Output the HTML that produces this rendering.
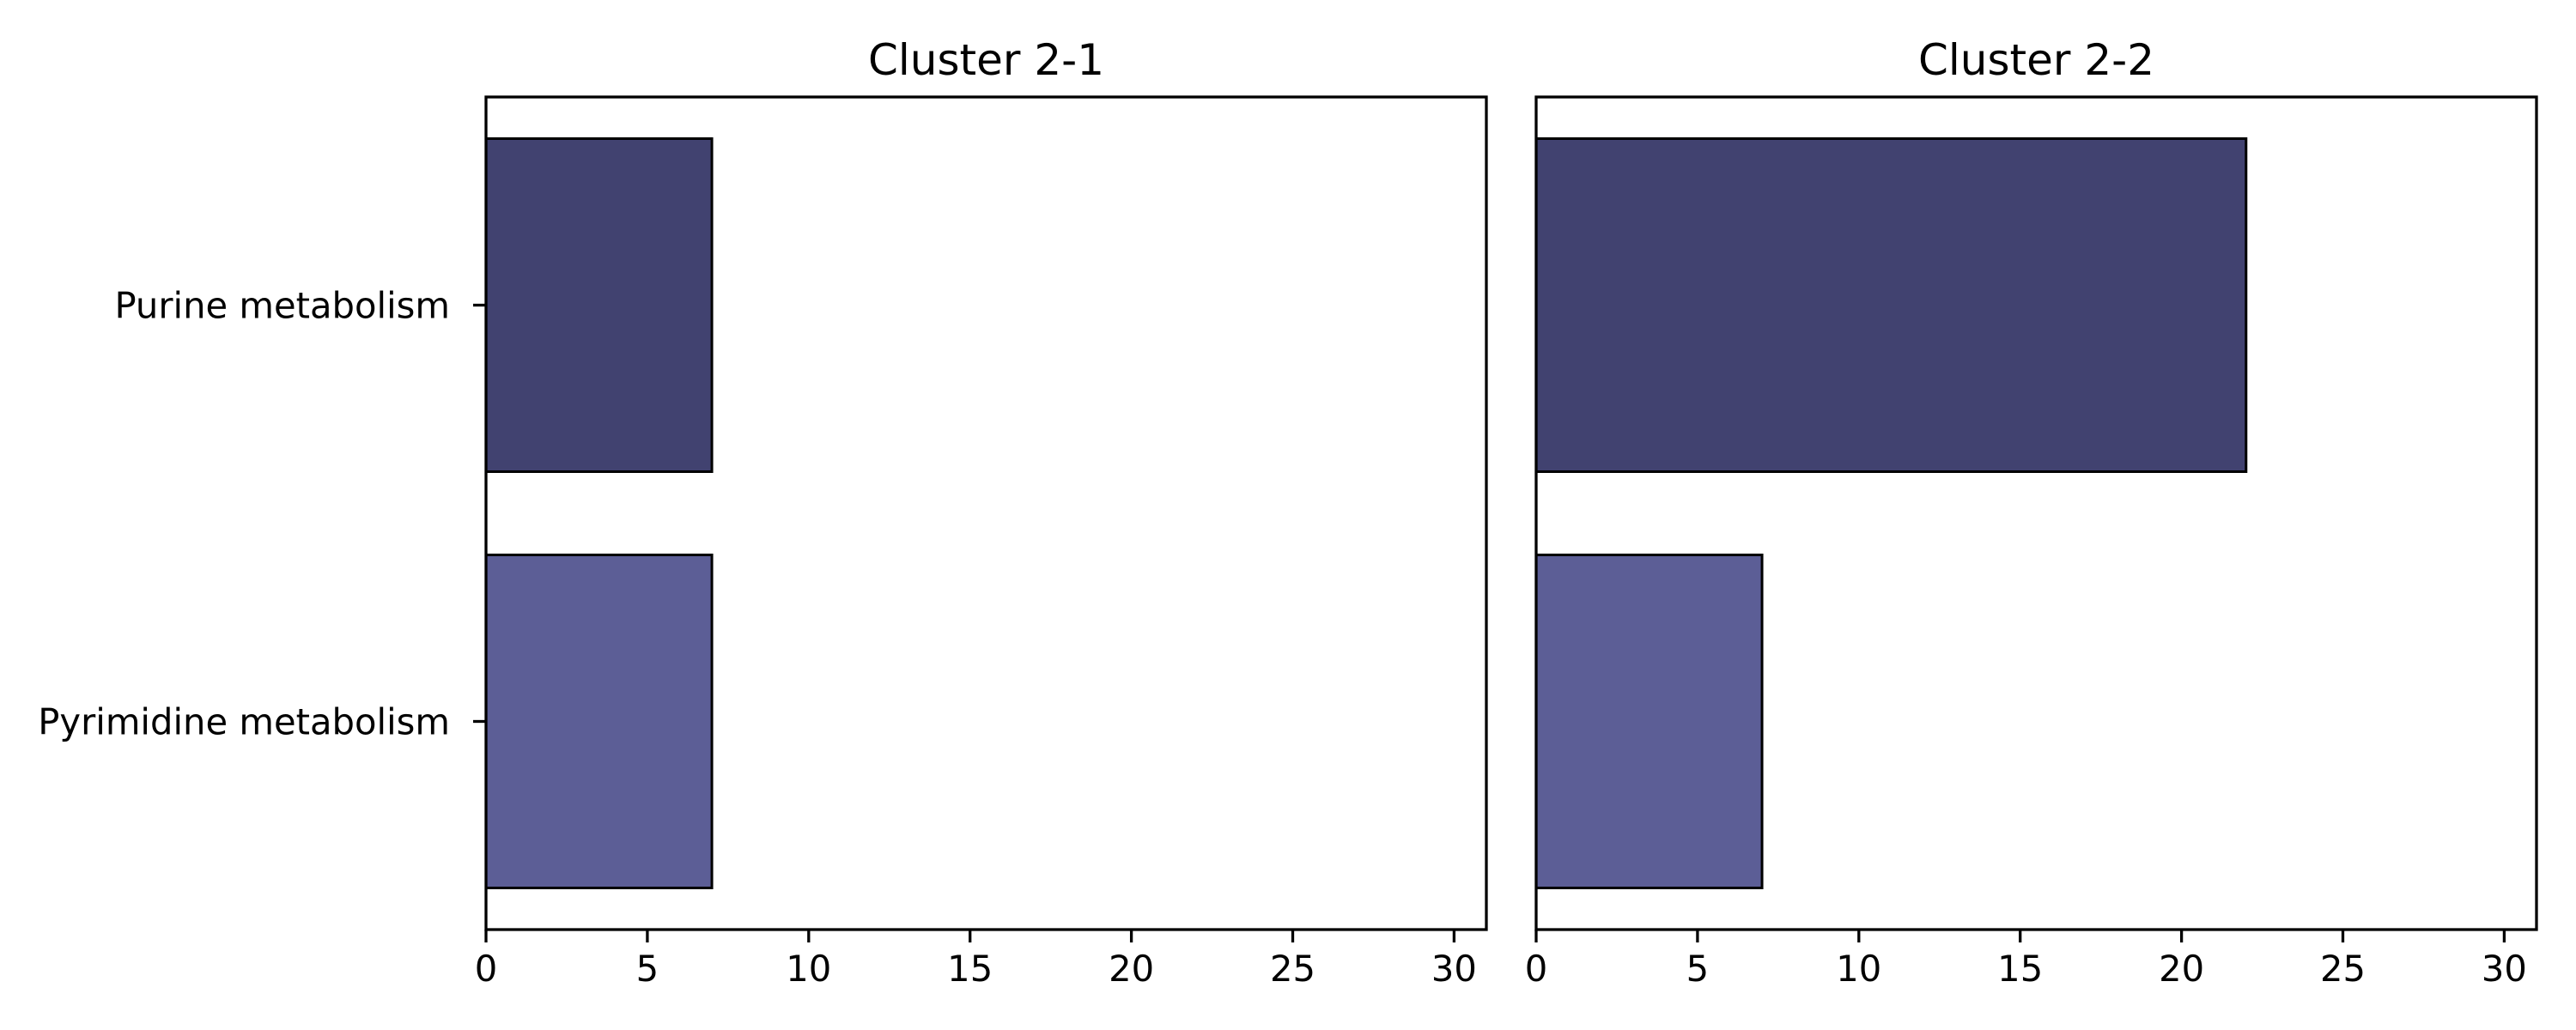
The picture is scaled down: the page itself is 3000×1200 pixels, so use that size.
<!DOCTYPE html>
<html><head><meta charset="utf-8"><style>
html,body{margin:0;padding:0;background:#fff;}
svg{display:block;}
text{font-family:"DejaVu Sans","Liberation Sans",sans-serif;fill:#000;}
</style></head><body>
<svg id="chart" width="3000" height="1200" viewBox="0 0 3000 1200" xmlns="http://www.w3.org/2000/svg"></svg>
<script>
const categories = ["Purine metabolism", "Pyrimidine metabolism"];
const panelTitles = ["Cluster 2-1", "Cluster 2-2"];
const valuesCluster21 = [7, 7];
const valuesCluster22 = [22, 7];
const xTicks = [0, 5, 10, 15, 20, 25, 30];
const barColors = ["#414270", "#5c5e96"];

const NS = "http://www.w3.org/2000/svg";
const svgEl = document.getElementById("chart");
const topY = 113, bottomY = 1083;
const xMax = 31.0;
const panels = [{left: 566, right: 1731, vals: valuesCluster21}, {left: 1789, right: 2954, vals: valuesCluster22}];
function mk(tag, attrs, parent) {
  const e = document.createElementNS(NS, tag);
  for (const k in attrs) e.setAttribute(k, attrs[k]);
  (parent || svgEl).appendChild(e);
  return e;
}
function yScale(i) { return topY + (i + 0.5) / 2 * (bottomY - topY); }
const bandH = (bottomY - topY) / 2;

panels.forEach((p, pi) => {
  const xs = v => p.left + v / xMax * (p.right - p.left);
  const g = mk("g", {});
  
  
  p.vals.forEach((v, i) => {
    const cy = yScale(i);
    const r = mk("rect", {x: xs(0), y: cy - 0.4 * bandH, width: xs(v) - xs(0), height: 0.8 * bandH, fill: barColors[i], stroke: "#000", "stroke-width": 3});
    
    
    if (pi === 0) {
      const t = mk("line", {x1: p.left - 15, x2: p.left, y1: cy, y2: cy, stroke: "#000", "stroke-width": 3.3}, g);
      
      
      const lb = mk("text", {x: p.left - 42, y: cy + 15, "text-anchor": "end", "font-size": 41.7});
      lb.textContent = categories[i];
      
      
    }
  });
  xTicks.forEach(tv => {
    const x = xs(tv);
    const t = mk("line", {x1: x, x2: x, y1: bottomY, y2: bottomY + 15, stroke: "#000", "stroke-width": 3.3}, g);
    
    
    const lb = mk("text", {x: x, y: bottomY + 60, "text-anchor": "middle", "font-size": 41.7});
    lb.textContent = tv;
    
    
  });
  const fr = mk("rect", {x: p.left, y: topY, width: p.right - p.left, height: bottomY - topY, fill: "none", stroke: "#000", "stroke-width": 3.3});
  
  
  const ti = mk("text", {x: (p.left + p.right) / 2, y: 87, "text-anchor": "middle", "font-size": 50});
  ti.textContent = panelTitles[pi];
  
  
});
</script>
</body></html>
